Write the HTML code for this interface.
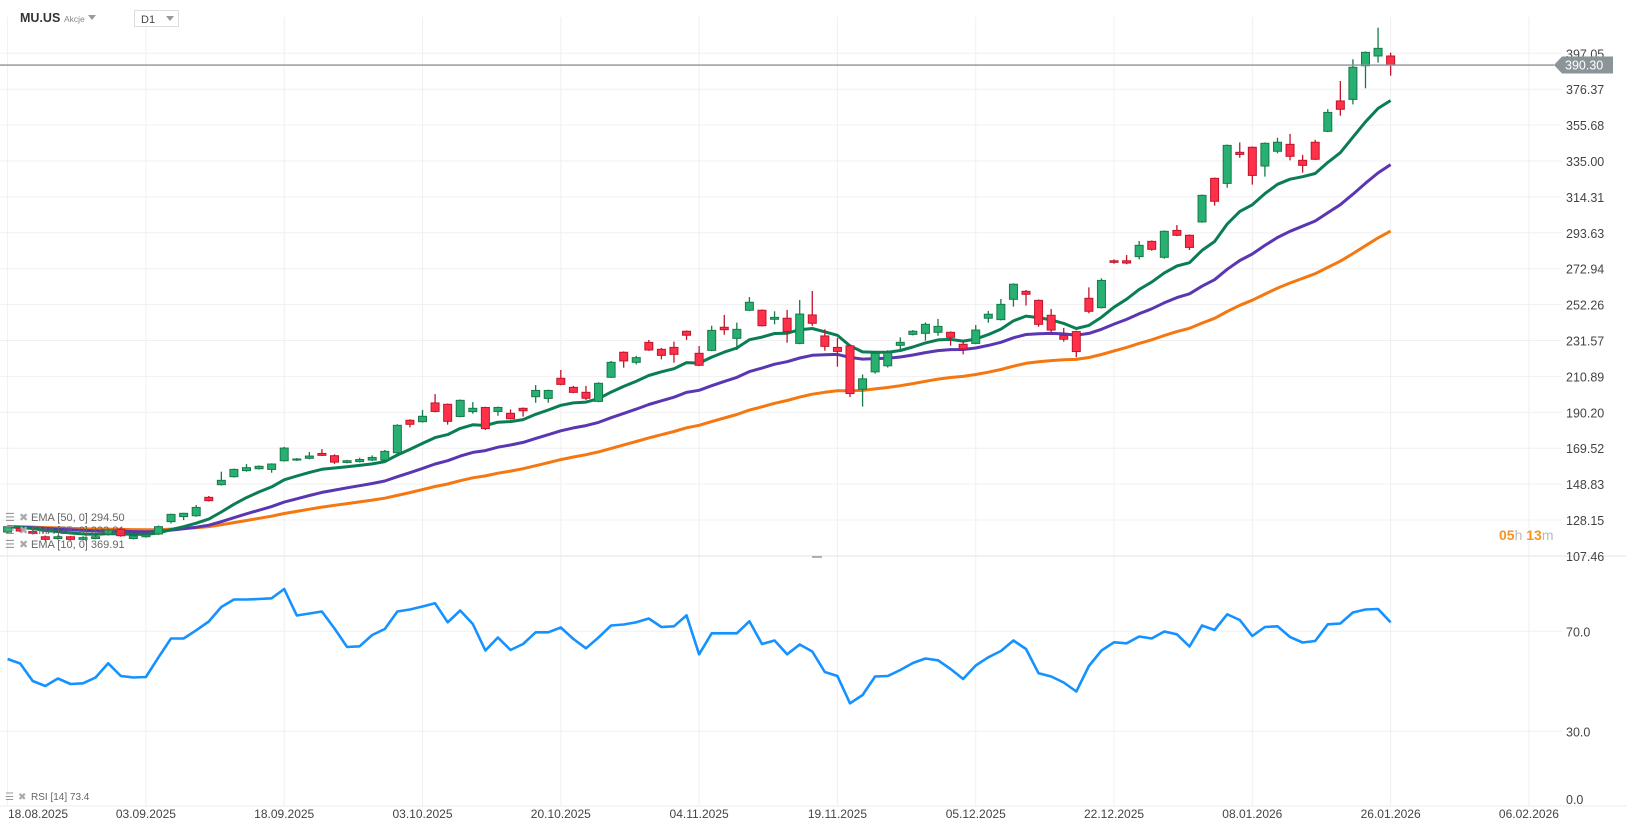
<!DOCTYPE html>
<html><head><meta charset="utf-8">
<style>
html,body{margin:0;padding:0;background:#fff;}
body{width:1626px;height:831px;overflow:hidden;font-family:"Liberation Sans",Arial,sans-serif;}
svg text{font-family:"Liberation Sans",Arial,sans-serif;}
</style></head>
<body>
<svg id="chart" width="1626" height="831" xmlns="http://www.w3.org/2000/svg">
  <g id="grid"></g>
  <g id="emas"></g>
  <g id="candles"></g>
  <g id="rsi"></g>
  <g id="axes"></g>

  <g>
    <text x="20" y="22" font-size="12.5" font-weight="bold" fill="#333">MU.US</text>
    <text x="64" y="22" font-size="8.5" fill="#888">Akcje</text>
    <polygon points="88,15 96,15 92,20" fill="#999"/>
  </g>
  <g>
    <rect x="134.5" y="10.5" width="44" height="16" fill="#fff" stroke="#ddd"/>
    <text x="141" y="23" font-size="11" fill="#444">D1</text>
    <polygon points="166,16 174,16 170,21" fill="#999"/>
  </g>

  <g font-size="11" fill="#666">
    <g>
      <text x="5" y="521" font-size="11" fill="#999">☰</text><text x="19" y="521" font-size="11" fill="#aaa">✖</text>
      <text x="31" y="521" fill="#666">EMA [50, 0] 294.50</text>
    </g>
    <g>
      <text x="5" y="534" font-size="11" fill="#999">☰</text><text x="19" y="534" font-size="11" fill="#aaa">✖</text>
      <text x="31" y="534" fill="#666">EMA [25, 0] 333.81</text>
    </g>
    <g>
      <text x="5" y="548" font-size="11" fill="#999">☰</text><text x="19" y="548" font-size="11" fill="#aaa">✖</text>
      <text x="31" y="548" fill="#666">EMA [10, 0] 369.91</text>
    </g>
  </g>
  <g>
    <text x="5" y="800" font-size="10" fill="#999">☰</text><text x="18" y="800" font-size="10" fill="#aaa">✖</text>
    <text x="31" y="800" font-size="10" fill="#666">RSI [14] 73.4</text>
  </g>
  <text x="1499" y="540" font-size="14" font-weight="bold"><tspan fill="#f7931e">05</tspan><tspan fill="#bbb" font-weight="normal">h </tspan><tspan fill="#f7931e">13</tspan><tspan fill="#bbb" font-weight="normal">m</tspan></text>
</svg>
<script>
const opens=[121.2,123.3,121.5,118.5,117.5,118.5,117.0,117.5,119.9,122.8,117.5,118.5,120.1,127.2,130.1,130.6,141.2,148.5,153.1,156.6,157.7,157.3,162.3,162.7,163.7,166.5,165.2,161.3,161.8,162.7,162.7,166.9,185.6,184.8,195.6,194.8,187.8,190.6,193.0,190.7,189.6,192.5,199.2,198.2,209.8,204.6,201.7,196.5,210.4,224.8,219.0,230.5,226.5,227.6,236.9,224.2,225.9,239.2,232.8,249.0,249.0,243.8,244.4,229.9,246.3,234.2,227.6,228.5,203.5,213.5,217.0,228.8,235.1,235.7,236.3,236.3,229.4,229.9,244.4,243.6,255.3,259.9,254.7,246.1,234.4,236.7,255.9,250.5,277.5,277.5,279.9,288.7,279.5,295.0,292.2,299.9,325.0,322.1,340.0,342.9,332.1,340.6,344.6,335.4,345.8,352.1,369.6,370.5,389.9,395.5,395.5];
const highs=[125.0,124.0,122.2,119.2,119.3,119.0,118.8,119.2,123.0,123.5,119.6,120.2,125.0,131.8,132.3,136.8,142.0,156.0,157.8,160.4,159.6,160.8,170.3,163.8,167.3,169.0,166.0,162.8,164.0,165.4,168.5,183.3,186.2,191.5,200.7,195.3,197.6,196.1,193.4,193.5,191.9,193.0,205.9,203.3,214.6,205.4,205.4,207.5,219.8,225.3,222.7,231.9,227.3,230.9,237.4,228.4,240.1,246.3,241.9,256.6,249.5,248.4,249.2,254.9,260.1,238.0,233.0,229.2,212.0,225.0,226.0,233.4,237.6,242.0,244.0,236.8,231.0,240.5,248.6,255.5,264.5,260.7,255.2,249.7,238.8,237.2,262.2,267.4,278.3,280.8,288.9,289.2,295.0,298.1,292.7,315.7,325.5,344.5,345.7,343.4,345.7,348.4,350.6,338.5,347.2,364.9,381.1,393.6,398.1,411.8,397.4];
const lows=[120.5,121.0,119.8,116.3,116.8,116.3,116.5,117.0,119.2,118.5,117.0,118.0,119.5,126.2,128.1,130.0,138.8,148.0,152.6,156.0,157.2,155.4,161.8,162.2,163.1,165.0,160.5,160.8,161.3,162.2,162.2,166.5,181.5,184.3,190.2,183.1,187.3,189.4,180.0,188.2,186.0,187.7,195.7,195.7,205.8,201.2,197.3,196.0,210.0,215.9,217.8,225.6,220.7,218.8,231.9,216.8,225.4,234.9,226.1,248.5,239.6,240.9,230.3,229.4,240.0,225.7,216.5,199.0,193.5,212.5,216.0,226.5,234.5,231.5,234.3,228.6,223.6,229.4,241.8,243.1,251.1,251.7,239.5,236.3,230.9,221.9,247.2,250.0,275.8,275.5,278.3,283.3,278.7,291.7,283.7,299.4,309.3,319.6,336.9,321.4,326.0,339.4,335.4,328.3,335.5,351.6,361.1,367.6,376.9,391.7,384.2];
const closes=[124.3,121.8,120.5,117.0,118.5,117.0,118.0,118.5,122.4,119.1,119.0,119.5,124.3,131.4,132.0,135.4,139.3,151.0,157.3,158.3,159.1,160.4,169.6,163.3,165.0,165.4,161.5,162.3,163.0,164.2,167.7,182.7,183.3,187.9,190.7,185.0,197.1,192.5,180.8,193.0,186.5,191.1,202.8,202.8,206.3,201.7,198.3,206.9,219.0,219.8,221.7,226.1,223.0,223.6,234.6,217.3,237.4,237.8,238.0,253.6,240.1,244.9,236.7,246.8,241.5,228.2,225.3,201.0,209.5,224.2,224.5,230.5,236.9,240.9,239.7,233.4,226.7,237.6,246.7,252.4,264.0,258.2,240.9,237.6,232.3,225.2,248.4,266.2,276.6,276.2,286.4,284.1,294.5,292.2,285.2,315.2,311.8,344.0,338.8,326.7,345.2,345.8,337.7,332.5,336.0,363.0,364.8,389.0,397.6,399.9,390.3];
const rsiValues=[58.9,57.1,50.1,48.1,51.1,48.9,49.2,51.5,57.2,52.1,51.5,51.7,59.6,67.1,67.1,70.4,73.9,79.7,82.7,82.7,82.9,83.2,86.9,76.3,77.1,77.9,71.1,63.7,64.0,68.5,70.9,77.9,78.7,79.9,81.2,73.6,78.3,72.9,62.3,67.5,62.5,64.9,69.6,69.6,71.5,66.9,63.2,67.5,72.3,72.7,73.6,75.1,71.7,72.0,76.4,60.8,69.2,69.2,69.2,74.0,64.9,66.3,60.8,64.7,61.9,53.7,52.1,41.2,44.5,51.9,52.1,54.5,57.3,59.1,58.4,54.9,50.9,56.3,59.6,62.1,66.3,62.9,53.2,51.9,49.5,45.9,56.1,62.3,65.6,65.2,67.9,67.1,69.9,68.8,63.9,72.3,70.5,76.8,74.5,68.1,71.7,72.0,67.7,65.5,66.1,72.8,73.1,77.5,78.7,78.9,73.6];
const priceTicks=["397.05","376.37","355.68","335.00","314.31","293.63","272.94","252.26","231.57","210.89","190.20","169.52","148.83","128.15","107.46"];
const rsiTicks=[70,30,0];
const dateLabels=["18.08.2025","03.09.2025","18.09.2025","03.10.2025","20.10.2025","04.11.2025","19.11.2025","05.12.2025","22.12.2025","08.01.2026","26.01.2026","06.02.2026"];
const emaPeriods=[50,25,10];
const lastPrice=390.30;

const NS="http://www.w3.org/2000/svg";
function xOf(i){return 7.6+i*12.573;}
function yP(p){return 53.3+(397.05-p)*1.7356;}
function yR(v){return 631.3+(70-v)*2.5;}
function mk(tag,attrs,parent){const e=document.createElementNS(NS,tag);for(const k in attrs)e.setAttribute(k,attrs[k]);parent.appendChild(e);return e;}

const grid=document.getElementById('grid');
const axes=document.getElementById('axes');
priceTicks.forEach(t=>{
  const y=yP(parseFloat(t));
  const l=mk('line',{x1:0,x2:1562,y1:y,y2:y,stroke:'#f0f0f0','stroke-width':1},grid);
  
  
  const tx=mk('text',{x:1566,y:y+5,'font-size':12.5,fill:'#444'},axes);
  tx.textContent=t;
  
  
});
dateLabels.forEach((d,k)=>{
  const x=7.6+k*11*12.573;
  const l=mk('line',{x1:x,x2:x,y1:17,y2:806,stroke:'#f0f0f0','stroke-width':1},grid);
  
  
  const tx=mk('text',{x:k===0?8:x,y:818,'font-size':12,fill:'#444','text-anchor':k===0?'start':'middle'},axes);
  tx.textContent=d;
  
  
});
const sep=mk('line',{x1:0,x2:1626,y1:556,y2:556,stroke:'#e6e6e6','stroke-width':1},grid);


const handle=mk('line',{x1:812,x2:822,y1:557,y2:557,stroke:'#999','stroke-width':1.5},grid);


const xaxis=mk('line',{x1:0,x2:1626,y1:806,y2:806,stroke:'#eee','stroke-width':1},grid);


rsiTicks.forEach(v=>{
  const y=yR(v);
  if(v>0){
    const l=mk('line',{x1:0,x2:1562,y1:y,y2:y,stroke:'#f0f0f0','stroke-width':1},grid);
    
    
  }
  const tx=mk('text',{x:1566,y:v===0?804:y+5,'font-size':12.5,fill:'#444'},axes);
  tx.textContent=v.toFixed(1);
  
  
});

const emaG=document.getElementById('emas');
const emaColors={50:'#f5770f',25:'#5b36b3',10:'#0b7d52'};
emaPeriods.forEach(n=>{
  const a=2/(n+1);let e=closes[0];const pts=[];
  closes.forEach((c,i)=>{e=i===0?c:a*c+(1-a)*e;pts.push(xOf(i).toFixed(1)+','+yP(e).toFixed(1));});
  const pl=mk('polyline',{points:pts.join(' '),fill:'none',stroke:emaColors[n],'stroke-width':3,'stroke-linejoin':'round'},emaG);
  
  
});

const cG=document.getElementById('candles');
closes.forEach((c,i)=>{
  const o=opens[i],h=highs[i],l=lows[i];
  const up=c>=o;
  const fill=up?'#27b072':'#ff3049', stroke=up?'#167a48':'#c0142c';
  const x=xOf(i);
  const g=mk('g',{},cG);
  
  
  mk('line',{x1:x,x2:x,y1:yP(h),y2:yP(l),stroke:stroke,'stroke-width':1.3},g);
  const top=yP(Math.max(o,c)),bot=yP(Math.min(o,c));
  mk('rect',{x:x-4,y:top,width:8,height:Math.max(1,bot-top),fill:fill,stroke:stroke,'stroke-width':1},g);
});

const yl=yP(lastPrice);
const pline=mk('line',{x1:0,x2:1554,y1:yl,y2:yl,stroke:'#8a9499','stroke-width':1.4},axes);


const tag=mk('polygon',{points:`1554,${yl} 1562,${yl-8.5} 1613,${yl-8.5} 1613,${yl+8.5} 1562,${yl+8.5}`,fill:'#8a9499'},axes);


const tt=mk('text',{x:1565,y:yl+4.5,'font-size':12.5,fill:'#fff'},axes);
tt.textContent=lastPrice.toFixed(2);



const rG=document.getElementById('rsi');
const rp=rsiValues.map((v,i)=>xOf(i).toFixed(1)+','+yR(v).toFixed(1)).join(' ');
const rl=mk('polyline',{points:rp,fill:'none',stroke:'#1592ff','stroke-width':2.6,'stroke-linejoin':'round'},rG);


</script>
</body></html>
